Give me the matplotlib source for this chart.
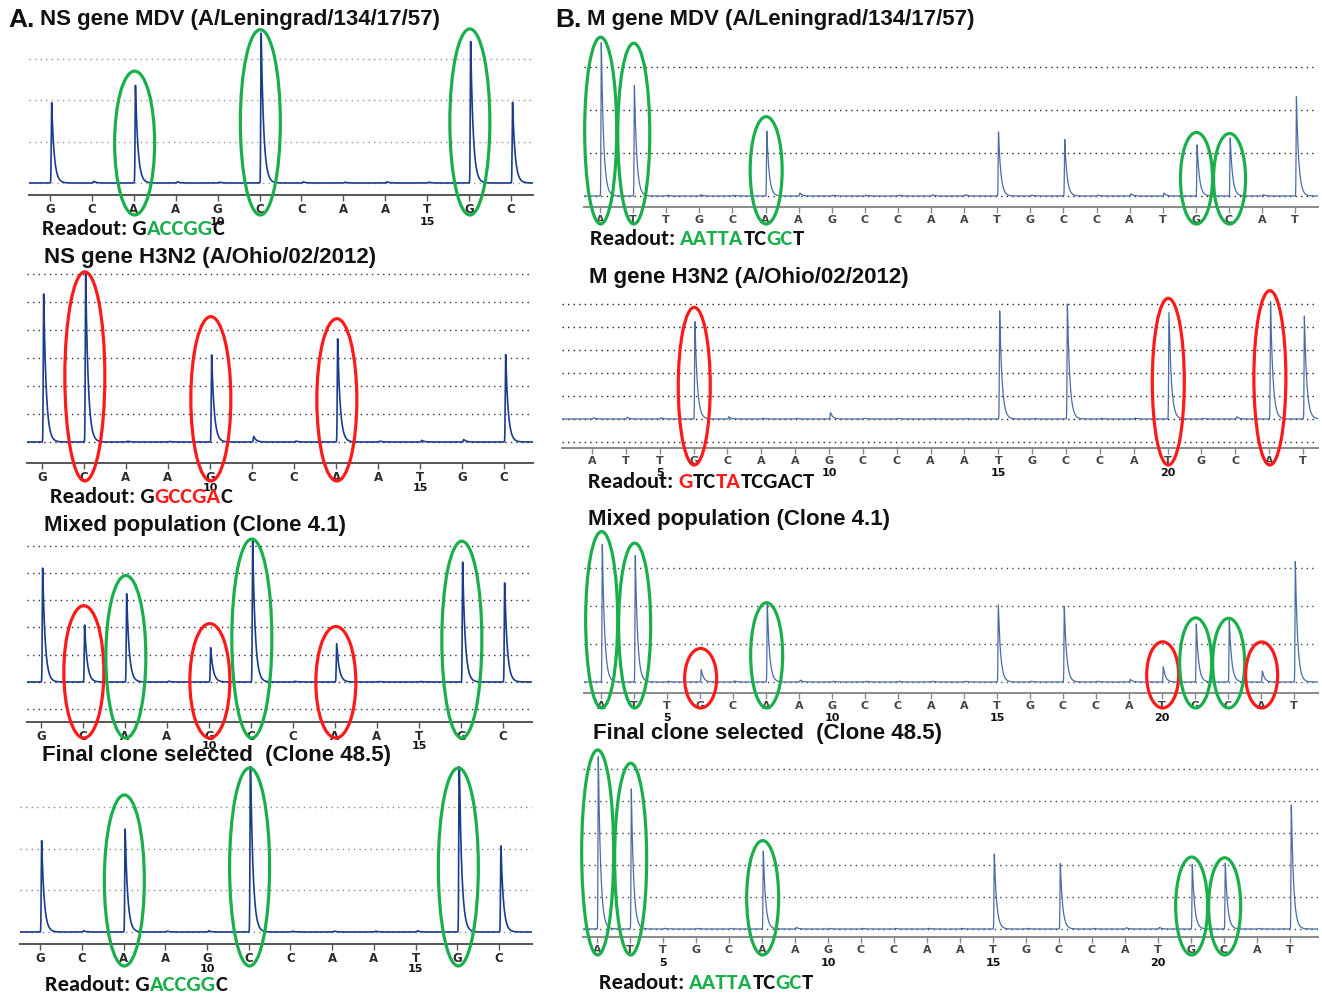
import numpy as np
import matplotlib
matplotlib.use("Agg")
import matplotlib.pyplot as plt
from matplotlib.patches import Ellipse
from matplotlib.transforms import blended_transform_factory

W, H = 1322, 994

# ---------------- data ----------------
ns_bases = ['G', 'C', 'A', 'A', 'G', 'C', 'C', 'A', 'A', 'T', 'G', 'C']
ns_disp = list(range(6, 18))
m_bases = ['A', 'T', 'T', 'G', 'C', 'A', 'A', 'G', 'C', 'C', 'A', 'A',
           'T', 'G', 'C', 'C', 'A', 'T', 'G', 'C', 'A', 'T']
m_disp = list(range(3, 25))

ns_mdv = [1.95, 0.04, 2.37, 0.03, 0.02, 3.64, 0.03, 0.02, 0.03, 0.02, 3.44, 1.96]
ns_h3n2 = [5.32, 6.04, 0.03, 0.02, 3.12, 0.2, 0.03, 3.69, 0.03, 0.06, 0.09, 3.12]
ns_mixed = [4.18, 2.1, 3.24, 0.03, 1.26, 5.2, 0.03, 1.41, 0.02, 0.02, 4.39, 3.63]
ns_final = [2.2, 0.03, 2.47, 0.02, 0.03, 4.3, 0.02, 0.02, 0.02, 0.03, 4.3, 2.07]

m_mdv = [3.6, 2.6, 0.02, 0.03, 0.02, 1.52, 0.07, 0.02, 0.02, 0.02, 0.03, 0.03,
         1.5, 0.02, 1.32, 0.02, 0.05, 0.07, 1.2, 1.36, 0.03, 2.32]
m_h3n2 = [0.05, 0.08, 0.05, 4.29, 0.1, 0.03, 0.03, 0.29, 0.03, 0.03, 0.02, 0.02,
          4.72, 0.02, 5.04, 0.03, 0.04, 4.64, 0.03, 0.1, 5.1, 4.49]
m_mixed = [3.67, 3.34, 0.02, 0.33, 0.03, 2.06, 0.05, 0.02, 0.02, 0.02, 0.02, 0.02,
           2.04, 0.02, 2.0, 0.02, 0.07, 0.4, 1.53, 1.65, 0.29, 3.19]
m_final = [5.44, 4.4, 0.02, 0.02, 0.02, 2.45, 0.05, 0.02, 0.02, 0.02, 0.02, 0.02,
           2.36, 0.02, 2.07, 0.02, 0.04, 0.05, 2.03, 2.07, 0.02, 3.93]

titles = ["NS gene MDV (A/Leningrad/134/17/57)", "NS gene H3N2 (A/Ohio/02/2012)",
          "Mixed population (Clone 4.1)", "Final clone selected  (Clone 48.5)",
          "M gene MDV (A/Leningrad/134/17/57)", "M gene H3N2 (A/Ohio/02/2012)",
          "Mixed population (Clone 4.1)", "Final clone selected  (Clone 48.5)"]

GREEN = '#1aaf4b'
RED = '#ff1a1a'
BLACK = '#111111'

readout_ns_mdv = [("Readout: G", BLACK), ("ACCGG", GREEN), ("C", BLACK)]
readout_ns_h3n2 = [("Readout: G", BLACK), ("GCCGA", RED), ("C", BLACK)]
readout_ns_final = [("Readout: G", BLACK), ("ACCGG", GREEN), ("C", BLACK)]
readout_m_mdv = [("Readout: ", BLACK), ("AATTA", GREEN), ("TC", BLACK), ("GC", GREEN), ("T", BLACK)]
readout_m_h3n2 = [("Readout: ", BLACK), ("G", RED), ("TC", BLACK), ("TA", RED), ("TCGACT", BLACK)]
readout_m_final = [("Readout: ", BLACK), ("AATTA", GREEN), ("TC", BLACK), ("GC", GREEN), ("T", BLACK)]

# circled dispensations: (dispensation, colour, pad above peak in px)
rings_ns_mdv = [(8, GREEN, 14), (11, GREEN, 3), (16, GREEN, 12)]
rings_ns_h3n2 = [(7, RED, 1), (10, RED, 38), (13, RED, 20)]
rings_ns_mixed = [(7, RED, 19), (8, GREEN, 18), (10, RED, 24), (11, GREEN, 1), (13, RED, 17), (16, GREEN, 21)]
rings_ns_final = [(8, GREEN, 34), (11, GREEN, -2), (16, GREEN, -2)]
rings_m_mdv = [(3, GREEN, 4), (4, GREEN, 41), (8, GREEN, 14), (21, GREEN, 12), (22, GREEN, 4)]
rings_m_h3n2 = [(6, RED, 13), (20, RED, 14), (23, RED, 11)]
rings_m_mixed = [(3, GREEN, 11), (4, GREEN, 12), (6, RED, 21), (8, GREEN, 1), (20, RED, 25),
                 (21, GREEN, 6), (22, GREEN, 1), (23, RED, 29)]
rings_m_final = [(3, GREEN, 5), (4, GREEN, 25), (8, GREEN, 10), (21, GREEN, 7), (22, GREEN, 5)]

# ---------------- layout (pixels) ----------------
A_STYLE = dict(trace='#1b3c8c', lw=1.2, tickbold='bold', tickcolor='#2a2a2a', ticksize=8.5,
               spine='#555555', nums=[10, 15], ring_w=40, tau=0.06)
B_STYLE = dict(trace='#4a6ca6', lw=0.9, tickbold='bold', tickcolor='#444444', ticksize=8,
               spine='#8a8a8a', nums=[5, 10, 15, 20], ring_w=32, tau=0.07)

panels = [
    dict(h=ns_mdv, bases=ns_bases, disp=ns_disp, style=A_STYLE, rings=rings_ns_mdv,
         left=29, right=533, axis_y=195, top=25, lx0=50, xsp=41.9, base_y=183, ysp=41.3,
         grid=[0, 1, 2, 3], gridc='#9a9a9a', ring_bot=20, nums_y=27, show_nums=True,
         title=(40, 20, titles[0]), readout=(42, 229, readout_ns_mdv)),
    dict(h=ns_h3n2, bases=ns_bases, disp=ns_disp, style=A_STYLE, rings=rings_ns_h3n2,
         left=27, right=533, axis_y=463, top=265, lx0=42, xsp=42.0, base_y=442, ysp=28.0,
         grid=[0, 1, 2, 3, 4, 5, 6], gridc='#333333', ring_bot=18, nums_y=25, show_nums=True,
         title=(44, 257, titles[1]), readout=(50, 497, readout_ns_h3n2)),
    dict(h=ns_mixed, bases=ns_bases, disp=ns_disp, style=A_STYLE, rings=rings_ns_mixed,
         left=27, right=532, axis_y=722, top=535, lx0=41, xsp=42.0, base_y=682, ysp=27.3,
         grid=[-1, 0, 1, 2, 3, 4, 5], gridc='#333333', ring_bot=16, nums_y=24, show_nums=True,
         title=(44, 526, titles[2]), readout=None),
    dict(h=ns_final, bases=ns_bases, disp=ns_disp, style=A_STYLE, rings=rings_ns_final,
         left=20, right=532, axis_y=944, top=766, lx0=40, xsp=41.75, base_y=932, ysp=41.7,
         grid=[0, 1, 2, 3], gridc='#8a8a8a', ring_bot=22, nums_y=25, show_nums=True,
         title=(42, 755, titles[3]), readout=(45, 985, readout_ns_final)),
    dict(h=m_mdv, bases=m_bases, disp=m_disp, style=B_STYLE, rings=rings_m_mdv,
         left=584, right=1318, axis_y=207, top=35, lx0=600, xsp=33.1, base_y=196, ysp=43.0,
         grid=[0, 1, 2, 3], gridc='#222222', ring_bot=17, nums_y=25, show_nums=False,
         title=(587, 20, titles[4]), readout=(590, 239, readout_m_mdv)),
    dict(h=m_h3n2, bases=m_bases, disp=m_disp, style=B_STYLE, rings=rings_m_h3n2,
         left=562, right=1318, axis_y=448, top=290, lx0=592, xsp=33.86, base_y=419, ysp=23.0,
         grid=[-1, 0, 1, 2, 3, 4, 5], gridc='#222222', ring_bot=17, nums_y=25, show_nums=True,
         title=(589, 278, titles[5]), readout=(588, 482, readout_m_h3n2)),
    dict(h=m_mixed, bases=m_bases, disp=m_disp, style=B_STYLE, rings=rings_m_mixed,
         left=584, right=1318, axis_y=693, top=530, lx0=601, xsp=33.0, base_y=682, ysp=38.0,
         grid=[0, 1, 2, 3], gridc='#444444', ring_bot=15, nums_y=25, show_nums=True,
         title=(588, 520, titles[6]), readout=None),
    dict(h=m_final, bases=m_bases, disp=m_disp, style=B_STYLE, rings=rings_m_final,
         left=583, right=1318, axis_y=937, top=750, lx0=597, xsp=33.0, base_y=929, ysp=32.0,
         grid=[0, 1, 2, 3, 4, 5], gridc='#444444', ring_bot=18, nums_y=26, show_nums=True,
         title=(593, 734, titles[7]), readout=(599, 983, readout_m_final)),
]

TITLE_FONT = dict(family=['Liberation Sans', 'DejaVu Sans'], weight='bold', size=16)
READ_FONT = dict(family=['Carlito', 'Lato', 'DejaVu Sans'], weight='bold', size=16.2)

fig = plt.figure(figsize=(W / 100, H / 100), dpi=100)
fig.patch.set_facecolor('white')


def pulse(t, tau):
    rise = np.where(t < 0, np.exp(-(t / 0.013) ** 2), 1.0)
    decay = np.where(t >= 0, np.exp(-np.clip(t, 0, None) / tau), 1.0)
    return rise * decay


def fx(x):
    return x / W


def fy(y):
    return 1 - y / H


renderer = fig.canvas.get_renderer()


def colored_text(x, y, pieces, font):
    cur = x
    for s, c in pieces:
        t = fig.text(fx(cur), fy(y), s, color=c, va='center', ha='left', **font)
        cur += t.get_window_extent(renderer).width


for p in panels:
    st = p['style']
    L, R, AY, TY = p['left'], p['right'], p['axis_y'], p['top']
    ax = fig.add_axes([fx(L), fy(AY), (R - L) / W, (AY - TY) / H])
    d0 = p['disp'][0]
    xlim = (d0 + (L - p['lx0']) / p['xsp'], d0 + (R - p['lx0']) / p['xsp'])
    ylim = ((p['base_y'] - AY) / p['ysp'], (p['base_y'] - TY) / p['ysp'])
    ax.set_xlim(xlim)
    ax.set_ylim(ylim)
    ax.patch.set_alpha(0)

    for g in p['grid']:
        ax.axhline(g, color=p['gridc'], lw=1.0, ls=(0, (1, 3)), zorder=1)

    x = np.linspace(xlim[0], xlim[1], 8000)
    y = np.zeros_like(x)
    for d, hgt in zip(p['disp'], p['h']):
        y += hgt * pulse(x - d - 0.04, st['tau'])
    ax.plot(x, y, color=st['trace'], lw=st['lw'], zorder=3)

    for s in ['top', 'right', 'left']:
        ax.spines[s].set_visible(False)
    ax.spines['bottom'].set_color(st['spine'])
    ax.spines['bottom'].set_linewidth(1.4)
    ax.set_yticks([])
    ax.set_xticks(p['disp'])
    ax.set_xticklabels(p['bases'], fontsize=st['ticksize'], fontweight=st['tickbold'],
                       color=st['tickcolor'], family='DejaVu Sans')
    ax.tick_params(axis='x', length=4, width=1, color=st['spine'], pad=1.5)

    trans = blended_transform_factory(ax.transData, ax.transAxes)
    if p['show_nums']:
        for n in st['nums']:
            ax.annotate(str(n), xy=(n, 0), xycoords=trans, xytext=(0, -p['nums_y'] * 0.72),
                        textcoords='offset points', ha='center', va='center',
                        fontsize=8, fontweight='bold', color=BLACK,
                        family='DejaVu Sans', annotation_clip=False)

    # rings around peaks
    for d, col, pad in p['rings']:
        hgt = min(p['h'][p['disp'].index(d)], ylim[1])
        top_px = p['base_y'] - hgt * p['ysp'] - pad
        bot_px = AY + p['ring_bot']
        top_v = (p['base_y'] - top_px) / p['ysp']
        bot_v = (p['base_y'] - bot_px) / p['ysp']
        e = Ellipse((d + 0.02, (top_v + bot_v) / 2), st['ring_w'] / p['xsp'], top_v - bot_v,
                    fill=False, edgecolor=col, lw=2.3, clip_on=False, zorder=5)
        ax.add_patch(e)

    tx, ty, tt = p['title']
    fig.text(fx(tx), fy(ty), tt, va='center', ha='left', color=BLACK, **TITLE_FONT)
    if p['readout'] is not None:
        rx, ry, pieces = p['readout']
        colored_text(rx, ry, pieces, READ_FONT)

fig.text(fx(8), fy(20), "A.", va='center', ha='left', color=BLACK,
         family=['Liberation Sans', 'DejaVu Sans'], weight='bold', size=19)
fig.text(fx(555), fy(20), "B.", va='center', ha='left', color=BLACK,
         family=['Liberation Sans', 'DejaVu Sans'], weight='bold', size=19)

fig.savefig("out.png", dpi=100, facecolor='white')
